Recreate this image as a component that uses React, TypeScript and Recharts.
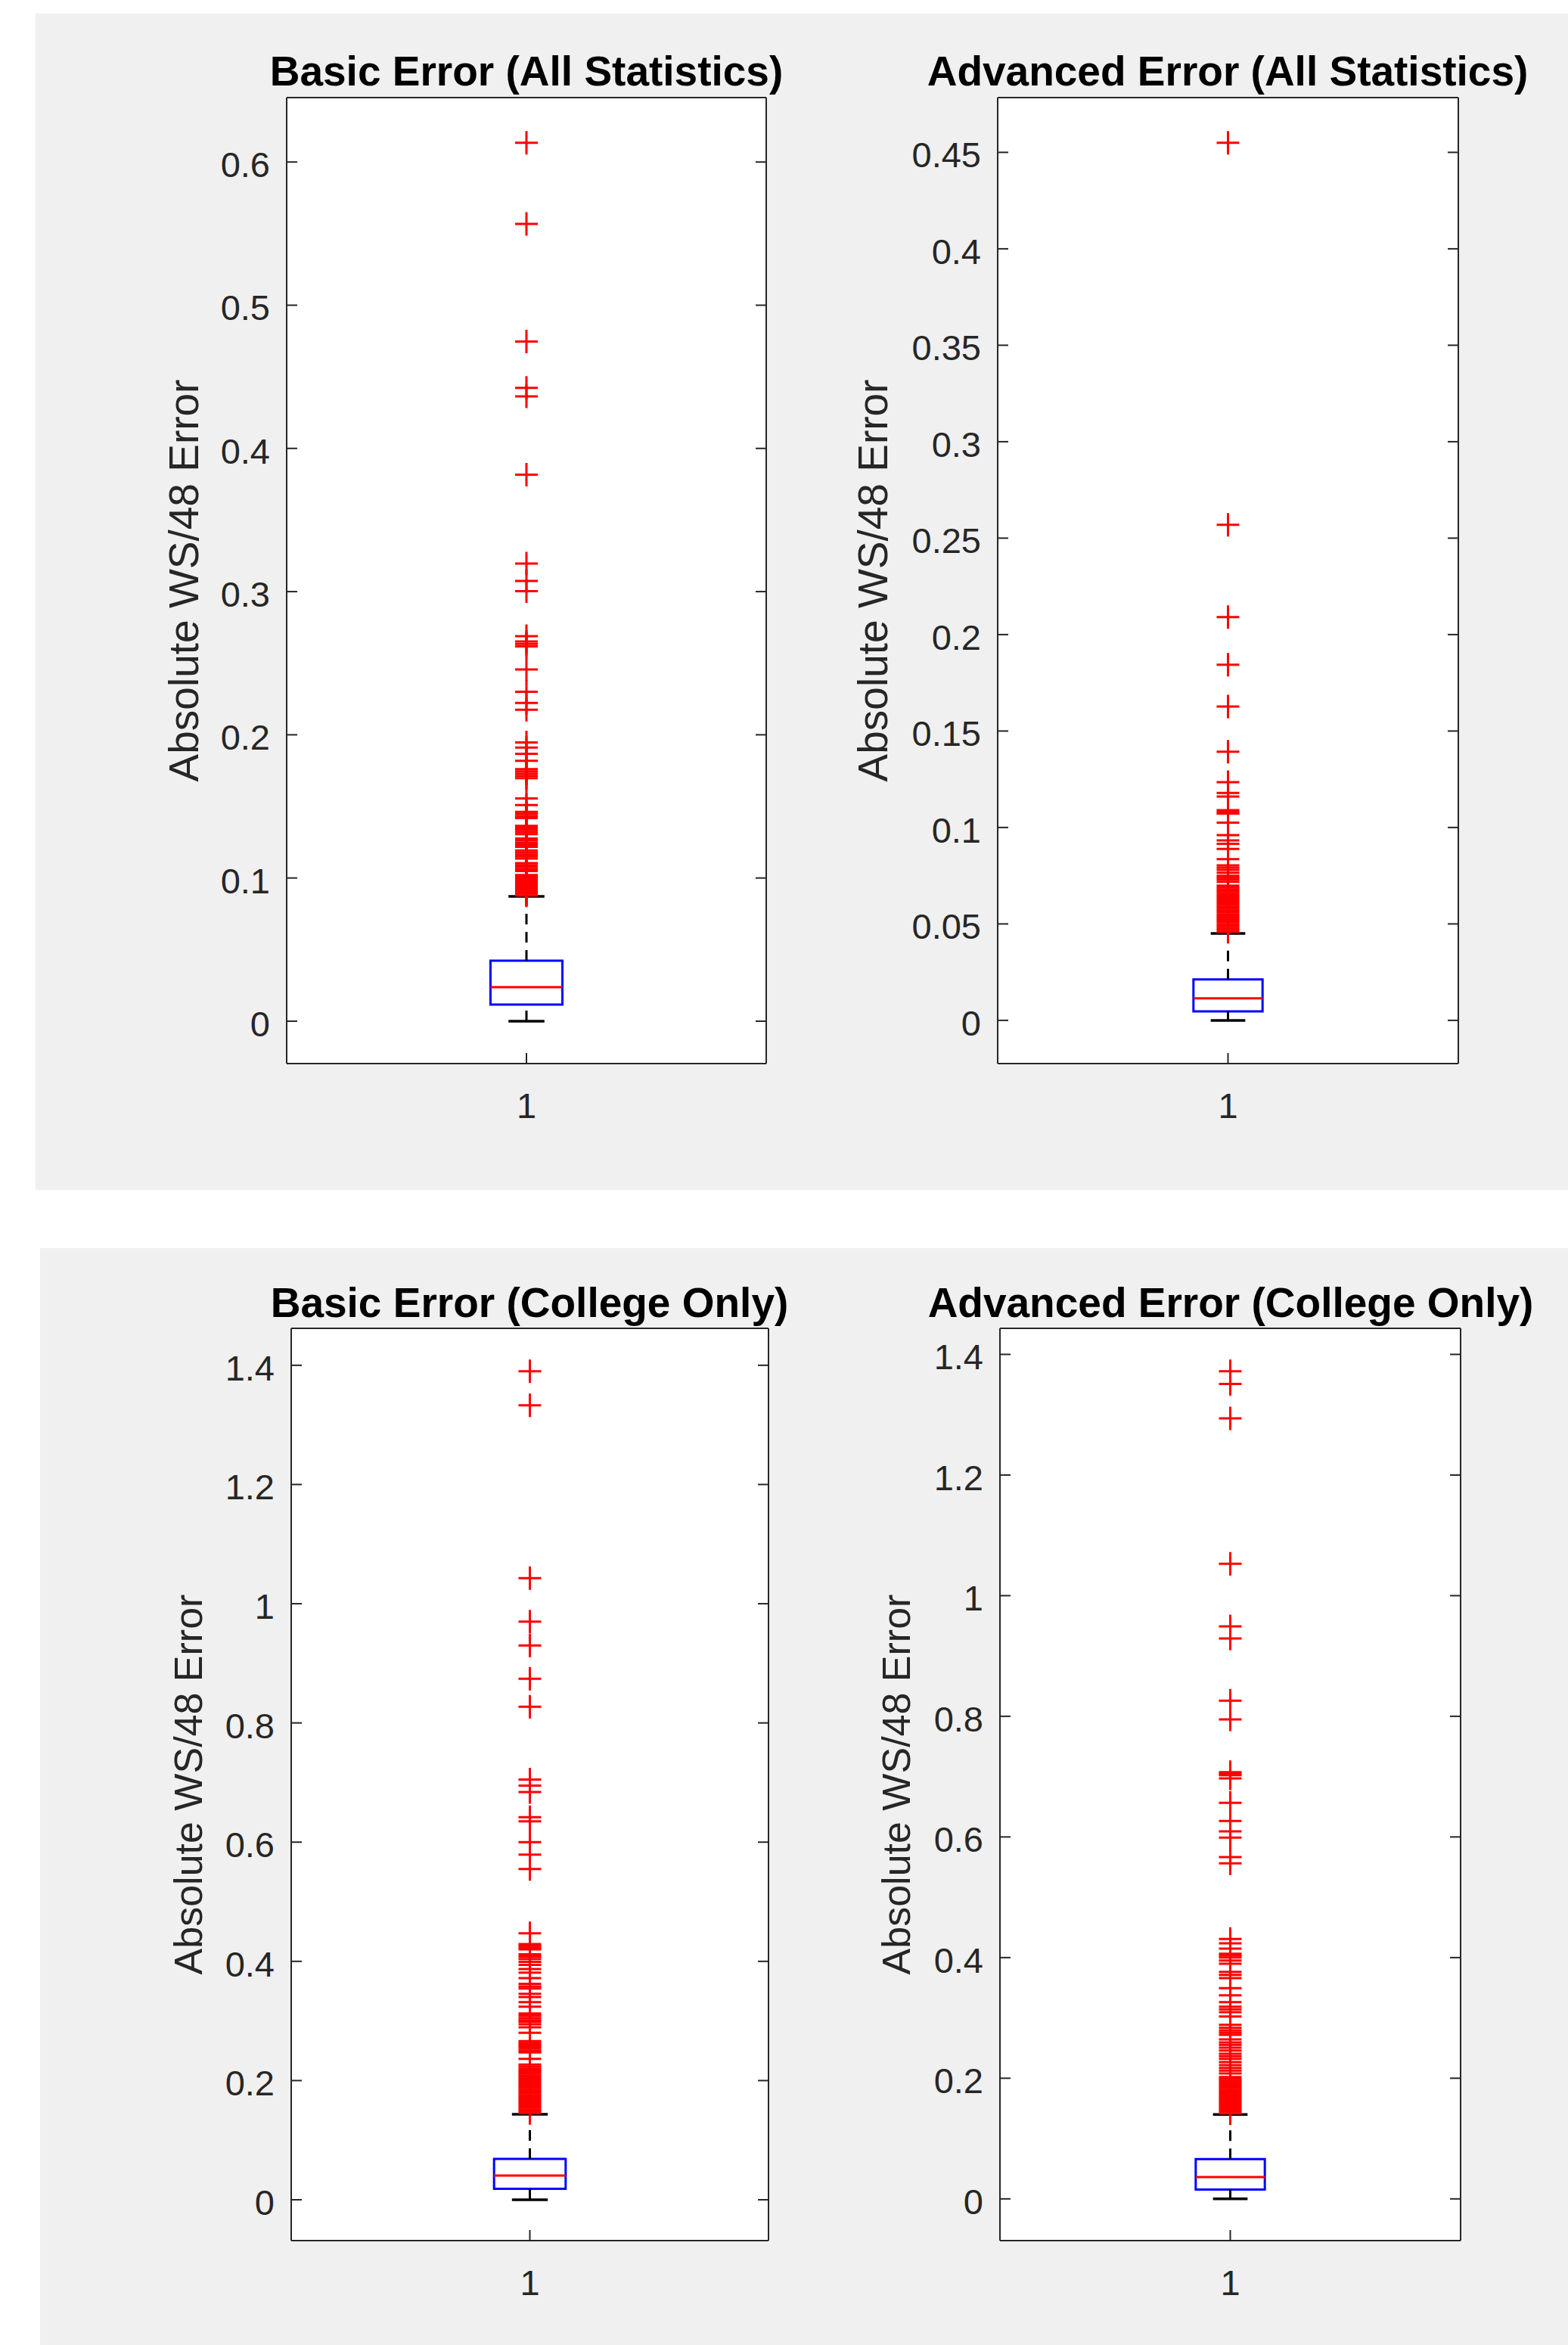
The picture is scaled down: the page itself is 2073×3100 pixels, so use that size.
import React from 'react';
import {
  ComposedChart,
  Scatter,
  XAxis,
  YAxis,
  CartesianGrid,
  ReferenceArea,
  ReferenceLine,
} from 'recharts';

const FONT = '"Liberation Sans", Arial, Helvetica, sans-serif';
const AXIS_COLOR = '#262626';
const TICK_LEN = 14;

// text
const titles = [
  'Basic Error (All Statistics)',
  'Advanced Error (All Statistics)',
  'Basic Error (College Only)',
  'Advanced Error (College Only)',
];
const yLabel = 'Absolute WS/48 Error';
const groupTicks = [1];

// box stats: [lower whisker, q1, median, q3, upper whisker]
const basicAllBox = [0, 0.0116, 0.0238, 0.0423, 0.0872];
const advancedAllBox = [0, 0.0047, 0.0114, 0.0212, 0.0451];
const basicCollegeBox = [0, 0.0185, 0.0406, 0.0685, 0.1434];
const advancedCollegeBox = [0, 0.0156, 0.036, 0.066, 0.14];

// outliers (red +)
const basicAllOutliers = [
  0.6134, 0.5568, 0.4746, 0.4423, 0.4363, 0.3816, 0.3196, 0.3075, 0.3003,
  0.2689, 0.2652, 0.2635, 0.2617, 0.2456, 0.2301, 0.2222, 0.2175,
  0.1946, 0.1911, 0.1867, 0.1819, 0.176, 0.1745, 0.1729, 0.1713, 0.1697, 0.1555, 0.151,
  0.1462, 0.1448, 0.1433, 0.1418, 0.1364, 0.135, 0.1335, 0.132, 0.1306,
  0.1276, 0.1262, 0.1247, 0.1233, 0.1218, 0.1192, 0.1178, 0.1164, 0.115, 0.1136,
  0.1104, 0.109, 0.1076, 0.1062, 0.1048,
  0.1021, 0.1008, 0.0995, 0.0982, 0.0969, 0.0956, 0.0943, 0.093, 0.0917, 0.0904, 0.0891, 0.0878,
];
const advancedAllOutliers = [
  0.455, 0.2569, 0.2091, 0.1844, 0.1627, 0.1393, 0.1235, 0.1179, 0.116,
  0.109, 0.1081, 0.1072, 0.1025, 0.096, 0.0933, 0.0915, 0.0889, 0.0836,
  0.0803, 0.0792, 0.078, 0.0765, 0.075, 0.074, 0.073, 0.0718,
  0.0699, 0.0689, 0.0679, 0.0669, 0.0659, 0.0649, 0.0639, 0.0629, 0.0619, 0.0609,
  0.0599, 0.0589, 0.0579, 0.0569, 0.0559, 0.0549, 0.0539, 0.0529, 0.0519, 0.0509,
  0.0499, 0.0489, 0.0479, 0.0469, 0.0459,
];
const basicCollegeOutliers = [
  1.39, 1.333, 1.043, 0.97, 0.93, 0.874, 0.827, 0.705, 0.695, 0.684, 0.642, 0.635,
  0.6, 0.579, 0.555,
  0.447, 0.429, 0.426, 0.423, 0.42, 0.412, 0.408, 0.404, 0.399, 0.394, 0.387, 0.381,
  0.372, 0.3625, 0.358, 0.3545, 0.3455, 0.34, 0.3316, 0.324, 0.3126, 0.309, 0.305,
  0.301, 0.2986, 0.2944, 0.2893, 0.2801, 0.2661, 0.263, 0.26, 0.257, 0.254, 0.2505,
  0.2471, 0.2364, 0.2268, 0.2235, 0.22, 0.2166,
  0.2145, 0.2115, 0.2085, 0.2055, 0.2025, 0.1995, 0.1965, 0.1935, 0.1905, 0.1875,
  0.1845, 0.1815, 0.1785, 0.1755, 0.1725, 0.1695, 0.1665, 0.1635, 0.1605, 0.1575,
  0.1545, 0.1515, 0.1485, 0.1455,
];
const advancedCollegeOutliers = [
  1.372, 1.351, 1.294, 1.053, 0.949, 0.929, 0.826, 0.795, 0.7074, 0.705, 0.7024, 0.697,
  0.6565, 0.6264, 0.6092, 0.5988, 0.5666, 0.5562,
  0.4308, 0.4236, 0.4149, 0.4065, 0.4036, 0.4002, 0.3952, 0.3898, 0.3764, 0.3713, 0.3659,
  0.3492, 0.3375, 0.3262, 0.3187, 0.3141, 0.3095, 0.3024, 0.2886, 0.2836, 0.279, 0.2753,
  0.2719, 0.2644, 0.2593, 0.2552, 0.2506, 0.2459, 0.2405, 0.2364, 0.2321, 0.2267, 0.2217,
  0.2171, 0.2126, 0.2079, 0.202,
  0.1988, 0.1958, 0.1928, 0.1898, 0.1868, 0.1838, 0.1808, 0.1778, 0.1748, 0.1718,
  0.1688, 0.1658, 0.1628, 0.1598, 0.1568, 0.1538, 0.1508, 0.1478, 0.1448, 0.1418,
];

// y axis ticks and limits
const basicAllTicks = [0, 0.1, 0.2, 0.3, 0.4, 0.5, 0.6];
const advancedAllTicks = [0, 0.05, 0.1, 0.15, 0.2, 0.25, 0.3, 0.35, 0.4, 0.45];
const collegeTicks = [0, 0.2, 0.4, 0.6, 0.8, 1, 1.2, 1.4];
const basicAllDomain = [-0.0296, 0.645];
const advancedAllDomain = [-0.0224, 0.4784];
const basicCollegeDomain = [-0.0685, 1.462];
const advancedCollegeDomain = [-0.0692, 1.4432];

const BOX_HALF = 0.075;
const CAP_HALF = 0.0375;

const fmt = (v: number) => String(Number(v.toFixed(3)));

const LeftTick = (props: any) => {
  const { x, y, payload } = props;
  return (
    <g>
      <line x1={x} y1={y} x2={x + TICK_LEN} y2={y} stroke={AXIS_COLOR} strokeWidth={2} />
      <text x={x - 22} y={y + 20} textAnchor="end" fontSize={47} fill={AXIS_COLOR} fontFamily={FONT}>
        {fmt(payload.value)}
      </text>
    </g>
  );
};

const RightTick = (props: any) => {
  const { x, y } = props;
  return <line x1={x - TICK_LEN} y1={y} x2={x} y2={y} stroke={AXIS_COLOR} strokeWidth={2} />;
};

const TopTick = (props: any) => {
  const { x, y } = props;
  return <line x1={x} y1={y} x2={x} y2={y + TICK_LEN} stroke={AXIS_COLOR} strokeWidth={2} />;
};

const BottomTick = (props: any) => {
  const { x, y, payload } = props;
  return (
    <g>
      <line x1={x} y1={y - TICK_LEN} x2={x} y2={y} stroke={AXIS_COLOR} strokeWidth={2} />
      <text x={x} y={y + 72} textAnchor="middle" fontSize={47} fill={AXIS_COLOR} fontFamily={FONT}>
        {payload.value}
      </text>
    </g>
  );
};

const PlusShape = (props: any) => {
  const { cx, cy } = props;
  return (
    <path
      d={`M${cx - 15},${cy}H${cx + 15}M${cx},${cy - 15.5}V${cy + 15.5}`}
      stroke="#ff0000"
      strokeWidth={3}
      fill="none"
    />
  );
};

interface PanelProps {
  box: number[];
  outliers: number[];
  domain: number[];
  ticks: number[];
  plotLeft: number;
  plotTop: number;
  plotW: number;
  plotH: number;
  labelOffset: number;
  labelSize: number;
}

const AXIS_W = 200;
const RIGHT_W = 20;
const TOP_H = 20;
const BOTTOM_H = 100;

const BoxPanel: React.FC<PanelProps> = ({ box, outliers, domain, ticks, plotLeft, plotTop, plotW, plotH, labelOffset, labelSize }) => {
  const [lo, q1, med, q3, hi] = box;
  const points = outliers.map((v) => ({ x: groupTicks[0], y: v }));
  const c = groupTicks[0];
  const width = AXIS_W + plotW + RIGHT_W;
  const height = TOP_H + plotH + BOTTOM_H;

  return (
    <div style={{ position: 'absolute', left: plotLeft - AXIS_W, top: plotTop - TOP_H, width, height }}>
      <ComposedChart width={width} height={height} margin={{ top: 0, right: 0, bottom: 0, left: 0 }}>
        <CartesianGrid fill="#ffffff" fillOpacity={1} stroke="none" />
        <XAxis
          type="number"
          dataKey="x"
          domain={[0.5, 1.5]}
          ticks={groupTicks}
          allowDataOverflow
          interval={0}
          height={BOTTOM_H}
          tickSize={0}
          tickMargin={0}
          tickLine={false}
          axisLine={{ stroke: AXIS_COLOR, strokeWidth: 2 }}
          tick={(p: any) => <BottomTick {...p} />}
        />
        <XAxis
          xAxisId="top"
          orientation="top"
          type="number"
          domain={[0.5, 1.5]}
          ticks={groupTicks}
          allowDataOverflow
          interval={0}
          height={TOP_H}
          tickSize={0}
          tickMargin={0}
          tickLine={false}
          axisLine={{ stroke: AXIS_COLOR, strokeWidth: 2 }}
          tick={(p: any) => <TopTick {...p} />}
        />
        <YAxis
          type="number"
          dataKey="y"
          domain={domain}
          ticks={ticks}
          allowDataOverflow
          interval={0}
          width={AXIS_W}
          tickSize={0}
          tickMargin={0}
          tickLine={false}
          axisLine={{ stroke: AXIS_COLOR, strokeWidth: 2 }}
          tick={(p: any) => <LeftTick {...p} />}
          label={{
            value: yLabel,
            angle: -90,
            position: 'insideLeft',
            offset: labelOffset,
            style: { textAnchor: 'middle', fontSize: labelSize, fill: AXIS_COLOR, fontFamily: FONT },
          }}
        />
        <YAxis
          yAxisId="right"
          orientation="right"
          type="number"
          domain={domain}
          ticks={ticks}
          allowDataOverflow
          interval={0}
          width={RIGHT_W}
          tickSize={0}
          tickMargin={0}
          tickLine={false}
          axisLine={{ stroke: AXIS_COLOR, strokeWidth: 2 }}
          tick={(p: any) => <RightTick {...p} />}
        />

        {/* whiskers */}
        <ReferenceLine segment={[{ x: c, y: q3 }, { x: c, y: hi }]} stroke="#000" strokeWidth={3} strokeDasharray="14 10" />
        <ReferenceLine segment={[{ x: c, y: lo }, { x: c, y: q1 }]} stroke="#000" strokeWidth={3} strokeDasharray="14 10" />
        <ReferenceLine segment={[{ x: c - CAP_HALF, y: hi }, { x: c + CAP_HALF, y: hi }]} stroke="#000" strokeWidth={3.5} />
        <ReferenceLine segment={[{ x: c - CAP_HALF, y: lo }, { x: c + CAP_HALF, y: lo }]} stroke="#000" strokeWidth={3.5} />

        {/* box */}
        <ReferenceArea x1={c - BOX_HALF} x2={c + BOX_HALF} y1={q1} y2={q3} fill="#ffffff" fillOpacity={1} stroke="#0000ff" strokeWidth={3} />
        <ReferenceLine segment={[{ x: c - BOX_HALF, y: med }, { x: c + BOX_HALF, y: med }]} stroke="#ff0000" strokeWidth={3} />

        <Scatter data={points} dataKey="y" shape={(p: any) => <PlusShape {...p} />} isAnimationActive={false} />
      </ComposedChart>
    </div>
  );
};

const App: React.FC = () => {
  return (
    <div style={{ position: 'absolute', left: 0, top: 0, width: 2073, height: 3100, background: '#ffffff', overflow: 'hidden' }}>
      <div style={{ position: 'absolute', left: 47, top: 18, width: 2026, height: 1555, background: '#f0f0f0' }} />
      <div style={{ position: 'absolute', left: 53, top: 1650, width: 2020, height: 1450, background: '#f0f0f0' }} />

      <svg width={2073} height={3100} style={{ position: 'absolute', left: 0, top: 0 }}>
        <g fontFamily={FONT} fontWeight="bold" fontSize={55} fill="#000" textAnchor="middle">
          <text x={696} y={113}>{titles[0]}</text>
          <text x={1623} y={113}>{titles[1]}</text>
          <text x={700} y={1741}>{titles[2]}</text>
          <text x={1627} y={1741}>{titles[3]}</text>
        </g>
      </svg>

      <BoxPanel box={basicAllBox} outliers={basicAllOutliers} domain={basicAllDomain} ticks={basicAllTicks}
        plotLeft={379} plotTop={129} plotW={634} plotH={1277} labelOffset={63.5} labelSize={55} />
      <BoxPanel box={advancedAllBox} outliers={advancedAllOutliers} domain={advancedAllDomain} ticks={advancedAllTicks}
        plotLeft={1319} plotTop={129} plotW={609} plotH={1277} labelOffset={34.5} labelSize={55} />
      <BoxPanel box={basicCollegeBox} outliers={basicCollegeOutliers} domain={basicCollegeDomain} ticks={collegeTicks}
        plotLeft={385} plotTop={1756} plotW={631} plotH={1206} labelOffset={63.5} labelSize={52} />
      <BoxPanel box={advancedCollegeBox} outliers={advancedCollegeOutliers} domain={advancedCollegeDomain} ticks={collegeTicks}
        plotLeft={1322} plotTop={1756} plotW={609} plotH={1206} labelOffset={63} labelSize={52} />
    </div>
  );
};

export default App;
